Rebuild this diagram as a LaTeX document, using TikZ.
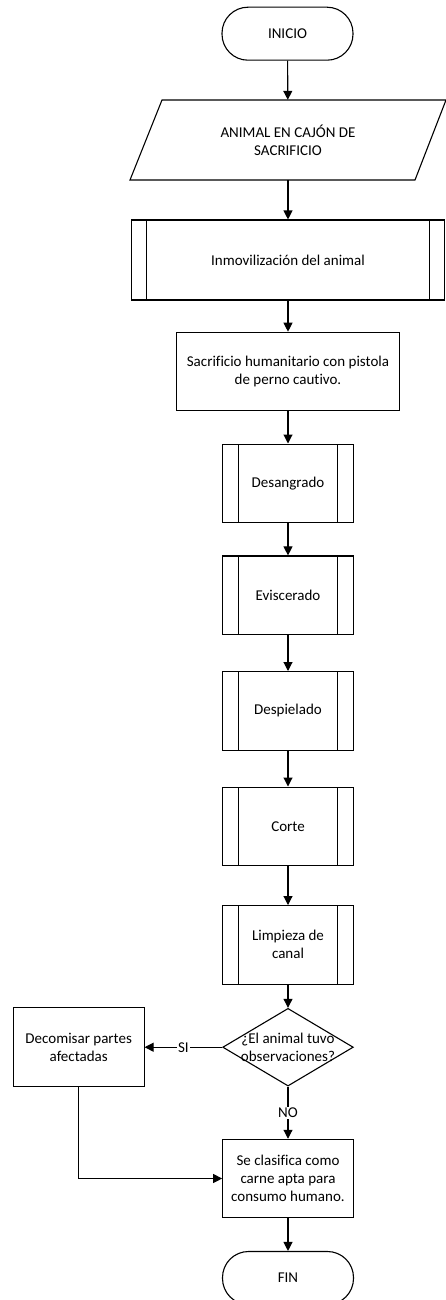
\documentclass[tikz,border=0pt]{standalone}
\usepackage{fontspec}
\setmainfont[Ligatures=NoCommon]{Carlito}
\usetikzlibrary{shapes.geometric,arrows.meta}
\begin{document}
\begin{tikzpicture}[x=1pt,y=1pt,
  every node/.style={font=\fontsize{15}{18}\selectfont, align=center, inner sep=0pt},
  line/.style={line width=1.1pt},
  arr/.style={line width=1.1pt, -{Triangle[length=9pt,width=9pt]}},
  terminal/.style={draw, line width=1.1pt, minimum width=131pt, minimum height=53pt, rounded corners=26pt},
  procbox/.style={draw, line width=1.1pt, minimum width=#1, minimum height=78.5pt},
  predef/.style={draw, line width=1.1pt, minimum width=130.6pt, minimum height=78.5pt,
    path picture={\draw[line width=1.1pt] ([xshift=15.6pt]path picture bounding box.north west) -- ([xshift=15.6pt]path picture bounding box.south west);
                  \draw[line width=1.1pt] ([xshift=-15.6pt]path picture bounding box.north east) -- ([xshift=-15.6pt]path picture bounding box.south east);}},
  lbl/.style={fill=white, inner sep=1pt}
]
\useasboundingbox (0,0) rectangle (446,-1300);

\node[terminal] (ini) at (287.5,-33.7) {INICIO};

\node[minimum width=284pt, minimum height=80pt] (anim) at (288,-140) {ANIMAL EN CAJÓN DE\\SACRIFICIO};
\draw[line] (162,-100) -- (446,-100) -- (415,-180) -- (130,-180) -- cycle;

\node[draw, line width=1.1pt, minimum width=312.6pt, minimum height=80pt,
  path picture={\draw[line width=1.1pt] ([xshift=14.5pt]path picture bounding box.north west) -- ([xshift=14.5pt]path picture bounding box.south west);
                \draw[line width=1.1pt] ([xshift=-14.5pt]path picture bounding box.north east) -- ([xshift=-14.5pt]path picture bounding box.south east);}]
  (inmo) at (288,-260) {Inmovilización del animal};

\node[procbox=222.6pt] (sacr) at (288,-371.5) {Sacrificio humanitario con pistola\\de perno cautivo.};

\node[predef] (desa) at (288,-483.3) {Desangrado};
\node[predef] (evis) at (288,-595.2) {Eviscerado};
\node[predef] (desp) at (288,-710.8) {Despielado};
\node[predef] (cort) at (288,-826.3) {Corte};
\node[predef] (limp) at (288,-944.8) {Limpieza de\\canal};

\node[draw, diamond, line width=1.1pt, minimum width=130.6pt, minimum height=77.7pt,
  label={[font=\fontsize{15}{18}\selectfont, align=center]center:¿El animal tuvo\\observaciones?}] (dec) at (288,-1047.2) {};

\node[procbox=130.7pt, minimum height=79pt] (deco) at (78.7,-1047.2) {Decomisar partes\\afectadas};

\node[procbox=130.6pt, minimum height=78.4pt] (clas) at (288,-1178.5) {Se clasifica como\\carne apta para\\consumo humano.};

\node[terminal] (fin) at (288,-1278) {FIN};

\draw[arr] (ini) -- (anim);
\draw[arr] (anim) -- (inmo);
\draw[arr] (inmo) -- (sacr);
\draw[arr] (sacr) -- (desa);
\draw[arr] (desa) -- (evis);
\draw[arr] (evis) -- (desp);
\draw[arr] (desp) -- (cort);
\draw[arr] (cort) -- (limp);
\draw[arr] (limp) -- (dec);
\draw[arr] (dec.west) -- node[lbl] {SI} (deco.east);
\draw[arr] (dec.south) -- node[lbl] {NO} (clas.north);
\draw[arr] (deco.south) |- (clas.west);
\draw[arr] (clas) -- (fin);
\end{tikzpicture}
\end{document}
